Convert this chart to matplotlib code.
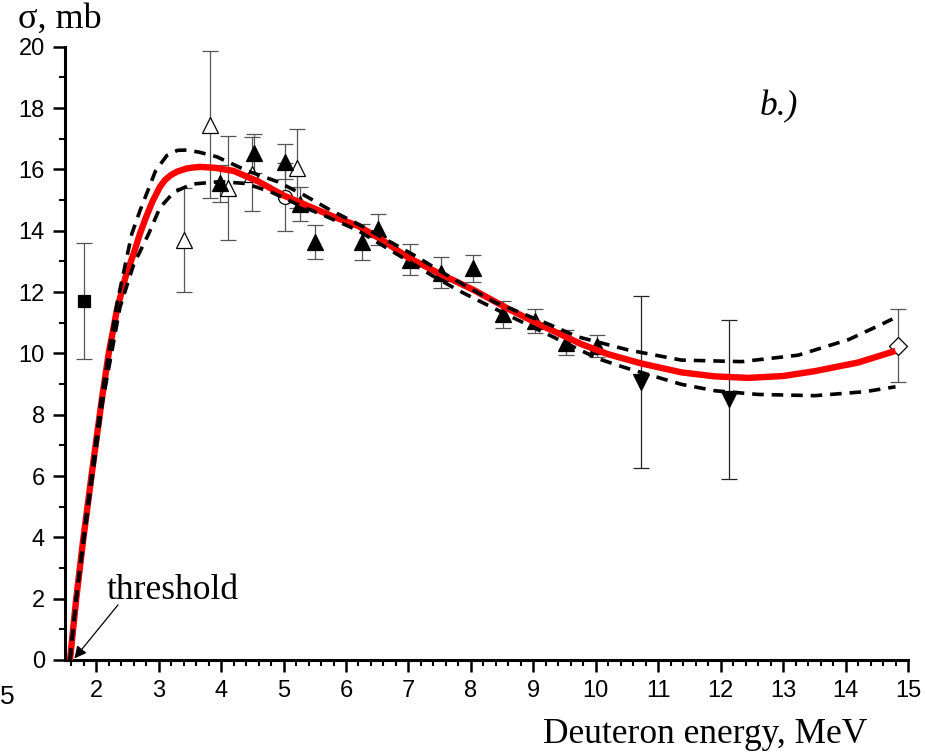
import numpy as np
import matplotlib
matplotlib.use('Agg')
import matplotlib.pyplot as plt
from matplotlib.ticker import MultipleLocator

# fitted excitation function (red) and its error corridor (dashed)
fit_e = [1.58, 1.68, 1.79, 1.95, 2.09, 2.20, 2.33, 2.47, 2.60, 2.70, 2.80, 2.90, 3.02,
         3.10, 3.20, 3.30, 3.45, 3.55, 3.67, 3.90, 4.20, 4.60, 5.00, 5.40, 5.81, 6.20,
         6.56, 7.00, 7.50, 8.05, 8.60, 9.12, 9.77, 10.20, 10.73, 11.37, 11.90, 12.44,
         13.00, 13.51, 14.20, 14.80]
fit_s = [0.0, 2.0, 3.9, 6.4, 8.5, 10.0, 11.4, 12.5, 13.26, 13.9, 14.45, 14.95, 15.43,
         15.65, 15.82, 15.93, 16.03, 16.06, 16.08, 16.05, 15.95, 15.6, 15.15, 14.8, 14.45, 14.15,
         13.72, 13.12, 12.6, 12.06, 11.45, 10.92, 10.3, 9.97, 9.67, 9.38, 9.25, 9.2,
         9.26, 9.42, 9.7, 10.08]

up_e = [1.58, 1.68, 1.79, 2.08, 2.33, 2.57, 2.70, 2.81, 2.95, 3.13, 3.30, 3.45, 3.65,
        3.93, 4.42, 4.90, 5.33, 5.75, 6.21, 6.66, 7.09, 7.70, 8.37, 9.28, 9.71, 10.52,
        11.37, 12.34, 13.24, 14.05, 14.58, 14.75]
up_s = [0.0, 2.0, 3.9, 8.5, 11.6, 13.9, 14.65, 15.22, 15.95, 16.45, 16.62, 16.63, 16.56,
        16.41, 15.95, 15.6, 15.16, 14.67, 14.2, 13.69, 13.2, 12.45, 11.68, 10.92, 10.54, 10.11,
        9.78, 9.73, 9.94, 10.45, 10.95, 11.12]

lo_e = [1.58, 1.68, 1.80, 2.10, 2.38, 2.60, 2.84, 3.02, 3.24, 3.53, 3.99, 4.39, 4.79,
        5.24, 5.70, 6.18, 6.56, 7.41, 7.84, 8.27, 8.75, 9.18, 10.03, 10.46, 11.37, 11.91,
        12.60, 13.51, 14.31, 14.80]
lo_s = [0.0, 2.0, 3.9, 8.4, 11.5, 12.9, 13.9, 14.75, 15.25, 15.52, 15.6, 15.54, 15.27,
        14.84, 14.45, 14.02, 13.55, 12.5, 12.01, 11.57, 11.09, 10.67, 9.83, 9.54, 8.99, 8.78,
        8.66, 8.62, 8.75, 8.91]

# experimental data sets
sq_e, sq_s, sq_d = [1.8], [11.7], [1.9]

open_tri_e = [3.40, 3.82, 4.11, 4.50, 5.21]
open_tri_s = [13.7, 17.45, 15.4, 15.85, 16.03]
open_tri_d = [1.7, 2.4, 1.7, 1.2, 1.3]

circ_e, circ_s, circ_d = [5.03], [15.1], [1.1]

tri_e = [3.99, 4.52, 5.02, 5.27, 5.51, 6.26, 6.52, 7.02, 7.52, 8.03, 8.52, 9.02, 9.52, 10.02]
tri_s = [15.55, 16.52, 16.25, 14.87, 13.62, 13.64, 14.04, 13.06, 12.63, 12.77, 11.27, 11.05, 10.35, 10.24]
tri_d = [0.6, 0.63, 0.57, 0.55, 0.55, 0.58, 0.52, 0.5, 0.5, 0.45, 0.45, 0.4, 0.4, 0.36]

inv_e = [10.73, 12.14]
inv_s = [9.07, 8.5]
inv_d = [2.8, 2.6]

dia_e, dia_s, dia_d = [14.84], [10.25], [1.2]

plt.rcParams['font.family'] = ['Liberation Sans', 'DejaVu Sans']

fig = plt.figure(figsize=(9.25, 7.52), dpi=100)
ax = fig.add_axes([65 / 925, 1 - 660 / 752, 843 / 925, 613.3 / 752])

eb = dict(linestyle='none', ecolor='#555555', elinewidth=0.9, capsize=6, capthick=0.9,
          markeredgecolor='black', markeredgewidth=0.9, zorder=3)

ax.errorbar(sq_e, sq_s, yerr=sq_d, marker='s', markersize=9, color='black', **eb)
ax.errorbar(open_tri_e, open_tri_s, yerr=open_tri_d, marker='^', markersize=12,
            markerfacecolor='white', color='black', **eb)
ax.errorbar(circ_e, circ_s, yerr=circ_d, marker='o', markersize=10,
            markerfacecolor='white', color='black', **eb)
ax.errorbar(tri_e, tri_s, yerr=tri_d, marker='^', markersize=12, color='black', **eb)
ax.errorbar(inv_e, inv_s, yerr=inv_d, marker='v', markersize=12, color='black',
            **{**eb, 'ecolor': '#222222'})
ax.errorbar(dia_e, dia_s, yerr=dia_d, marker='D', markersize=9,
            markerfacecolor='white', color='black', **eb)

ax.plot(fit_e, fit_s, color='#ff0000', lw=4.6, solid_capstyle='butt', zorder=4)
ax.plot(up_e, up_s, color='black', lw=2.6, dashes=(3.2, 2.2), zorder=5)
ax.plot(lo_e, lo_s, color='black', lw=2.6, dashes=(3.2, 2.2), zorder=5)

ax.set_xlim(1.5, 15)
ax.set_ylim(0, 20)
ax.xaxis.set_minor_locator(MultipleLocator(0.2))
ax.yaxis.set_minor_locator(MultipleLocator(1))
ax.set_xticks(range(2, 16))
ax.set_yticks(range(0, 21, 2))

for s in ['top', 'right']:
    ax.spines[s].set_visible(False)
for s in ['left', 'bottom']:
    ax.spines[s].set_linewidth(2.2)
ax.tick_params(which='major', length=8.5, width=1.8, labelsize=17, pad=6)
ax.tick_params(which='minor', length=4.5, width=1.5)

serif = ['Liberation Serif', 'DejaVu Serif']
fig.text(543 / 925, 1 - 743 / 752, 'Deuteron energy, MeV', family=serif, fontsize=25.5,
         ha='left', va='baseline')
fig.text(18 / 925, 1 - 28 / 752, 'σ, mb', family=serif, fontsize=26,
         ha='left', va='baseline')
fig.text(760 / 925, 1 - 115 / 752, 'b.)', family=serif, style='italic', fontsize=25.5,
         ha='left', va='baseline')
fig.text(0, 1 - 704 / 752, '5', fontsize=19, ha='left', va='baseline')

ax.text(2.17, 1.99, 'threshold', family=serif, fontsize=25.5, ha='left', va='baseline')
ax.annotate('', xy=(1.65, 0.05), xytext=(2.35, 1.8),
            arrowprops=dict(arrowstyle='-|>', color='black', lw=0.9,
                            mutation_scale=18, shrinkA=0, shrinkB=0))

fig.savefig('out.png', dpi=100)
